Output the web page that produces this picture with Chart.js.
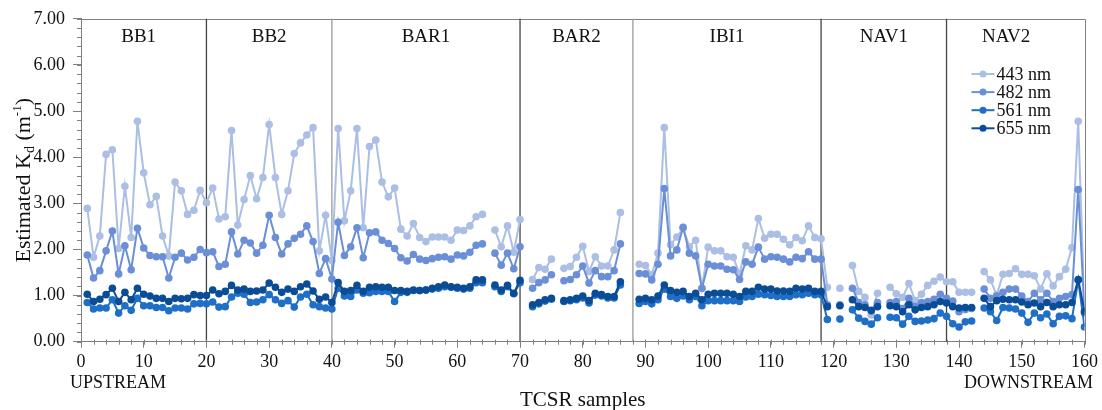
<!DOCTYPE html>
<html>
<head>
<meta charset="utf-8">
<script src="https://cdn.jsdelivr.net/npm/chart.js@4.4.1/dist/chart.umd.min.js"></script>
<style>
  html, body { margin: 0; padding: 0; background: #fff; }
  #wrap { width: 1102px; height: 410px; }
</style>
</head>
<body>
<div id="wrap"><canvas id="kdChart"></canvas></div>
<script>
/* ── Data ───────────────────────────────────── */
const samples = [
  1, 2, 3, 4, 5, 6, 7, 8, 9, 10, 11, 12, 13, 14, 15, 16, 17, 18, 19, 20,
  21, 22, 23, 24, 25, 26, 27, 28, 29, 30, 31, 32, 33, 34, 35, 36, 37, 38, 39, 40,
  41, 42, 43, 44, 45, 46, 47, 48, 49, 50, 51, 52, 53, 54, 55, 56, 57, 58, 59, 60,
  61, 62, 63, 64, 65, 66, 67, 68, 69, 70, 71, 72, 73, 74, 75, 76, 77, 78, 79, 80,
  81, 82, 83, 84, 85, 86, 87, 88, 89, 90, 91, 92, 93, 94, 95, 96, 97, 98, 99, 100,
  101, 102, 103, 104, 105, 106, 107, 108, 109, 110, 111, 112, 113, 114, 115, 116, 117, 118, 119, 120,
  121, 122, 123, 124, 125, 126, 127, 128, 129, 130, 131, 132, 133, 134, 135, 136, 137, 138, 139, 140,
  141, 142, 143, 144, 145, 146, 147, 148, 149, 150, 151, 152, 153, 154, 155, 156, 157, 158, 159, 160,
];

const kd443 = [
  2.89, 1.83, 2.29, 4.06, 4.16, 2.02, 3.37, 2.26, 4.78, 3.66,
  2.97, 3.15, 2.29, 1.86, 3.46, 3.27, 2.76, 2.85, 3.28, 3.01,
  3.33, 2.66, 2.71, 4.58, 2.53, 3.08, 3.60, 3.10, 3.56, 4.71,
  3.56, 2.76, 3.27, 4.08, 4.31, 4.48, 4.64, 1.97, 2.74, 1.76,
  4.62, 2.62, 3.27, 4.62, 2.47, 4.23, 4.37, 3.46, 3.14, 3.33,
  2.44, 2.29, 2.56, 2.26, 2.17, 2.27, 2.27, 2.27, 2.20, 2.42,
  2.41, 2.51, 2.71, 2.76, null, 2.42, 2.06, 2.51, 1.94, 2.65,
  null, 1.35, 1.61, 1.57, 1.79, null, 1.59, 1.63, 1.83, 2.07,
  1.52, 1.84, 1.64, 1.64, 1.99, 2.80, null, null, 1.68, 1.65,
  1.45, 1.92, 4.64, 2.10, 2.27, 2.46, 2.06, 2.20, 1.16, 2.05,
  1.97, 1.97, 1.84, 1.83, 1.47, 2.08, 1.99, 2.67, 2.24, 2.33,
  2.33, 2.22, 2.10, 2.26, 2.19, 2.51, 2.26, 2.23, 1.18, null,
  1.16, null, 1.65, 1.09, 0.96, 0.58, 1.05, null, 1.18, 1.04,
  0.96, 1.26, 0.89, 1.03, 1.22, 1.31, 1.40, 1.30, 1.30, 1.07,
  1.07, 1.07, null, 1.52, 1.34, 1.01, 1.46, 1.48, 1.58, 1.46,
  1.46, 1.43, 1.14, 1.47, 1.21, 1.41, 1.57, 2.04, 4.78, 0.68,
];

const kd482 = [
  1.88, 1.38, 1.54, 1.97, 2.40, 1.47, 2.08, 1.56, 2.46, 2.03,
  1.87, 1.84, 1.84, 1.38, 1.83, 1.92, 1.77, 1.83, 2.00, 1.93,
  1.95, 1.63, 1.68, 2.38, 1.90, 2.20, 2.14, 1.92, 2.09, 2.74,
  2.26, 1.90, 2.12, 2.24, 2.33, 2.51, 2.17, 1.48, 1.80, 1.36,
  2.59, 1.87, 2.06, 2.47, 1.82, 2.36, 2.38, 2.20, 2.13, 2.02,
  1.82, 1.75, 1.89, 1.79, 1.76, 1.80, 1.83, 1.84, 1.79, 1.88,
  1.86, 1.94, 2.09, 2.12, null, 1.92, 1.66, 1.92, 1.58, 2.06,
  null, 1.16, 1.28, 1.34, 1.45, null, 1.32, 1.35, 1.45, 1.64,
  1.27, 1.54, 1.41, 1.41, 1.54, 2.12, null, null, 1.48, 1.47,
  1.34, 1.68, 3.32, 1.86, 1.99, 2.48, 1.92, 1.86, 1.16, 1.68,
  1.64, 1.64, 1.57, 1.56, 1.35, 1.73, 1.68, 2.05, 1.79, 1.84,
  1.83, 1.79, 1.73, 1.83, 1.80, 1.95, 1.79, 1.79, 0.80, null,
  0.80, null, 1.16, 0.85, 0.80, 0.66, 0.85, null, 0.85, 0.87,
  0.72, 0.94, 0.76, 0.85, 0.87, 0.92, 1.03, 0.94, 0.88, 0.65,
  0.70, 0.72, null, 1.14, 0.94, 0.99, 1.07, 1.14, 1.14, 0.99,
  0.87, 1.05, 0.91, 1.05, 0.87, 0.94, 0.98, 1.02, 3.30, 0.62,
];

const kd561 = [
  0.85, 0.71, 0.73, 0.73, 0.91, 0.62, 0.78, 0.68, 0.94, 0.78,
  0.78, 0.74, 0.74, 0.67, 0.73, 0.73, 0.71, 0.82, 0.83, 0.82,
  0.86, 0.75, 0.76, 0.97, 1.05, 1.03, 0.85, 0.86, 0.91, 1.02,
  0.91, 0.83, 0.89, 0.75, 0.97, 1.03, 0.80, 0.76, 0.73, 0.71,
  1.16, 0.99, 0.98, 1.12, 1.05, 1.06, 1.09, 1.09, 1.09, 0.87,
  1.07, 1.07, 1.11, 1.11, 1.12, 1.14, 1.16, 1.19, 1.18, 1.16,
  1.14, 1.16, 1.28, 1.28, null, 1.19, 1.09, 1.19, 1.04, 1.28,
  null, 0.76, 0.82, 0.88, 0.92, null, 0.87, 0.89, 0.91, 0.95,
  0.84, 1.01, 0.99, 0.95, 0.95, 1.23, null, null, 0.83, 0.87,
  0.82, 0.91, 1.14, 0.98, 0.94, 0.99, 0.91, 0.98, 0.78, 0.89,
  0.89, 0.89, 0.89, 0.89, 0.87, 0.97, 0.98, 1.03, 1.02, 1.00,
  0.98, 0.98, 0.98, 1.02, 1.02, 1.05, 1.02, 1.02, 0.48, null,
  0.49, null, 0.69, 0.51, 0.44, 0.38, 0.52, null, 0.53, 0.52,
  0.38, 0.55, 0.44, 0.45, 0.47, 0.50, 0.62, 0.55, 0.39, 0.32,
  0.43, 0.45, null, 0.73, 0.65, 0.46, 0.74, 0.73, 0.71, 0.62,
  0.42, 0.62, 0.52, 0.60, 0.39, 0.55, 0.56, 0.50, 1.33, 0.32,
];

const kd655 = [
  1.03, 0.87, 0.92, 1.02, 1.16, 0.87, 1.07, 0.91, 1.16, 1.03,
  0.99, 0.94, 0.94, 0.87, 0.94, 0.93, 0.94, 1.02, 1.00, 1.00,
  1.12, 1.04, 1.09, 1.22, 1.12, 1.14, 1.09, 1.10, 1.12, 1.27,
  1.18, 1.07, 1.14, 1.09, 1.19, 1.25, 1.10, 0.92, 0.97, 0.85,
  1.28, 1.09, 1.11, 1.22, 1.09, 1.18, 1.19, 1.18, 1.18, 1.11,
  1.11, 1.09, 1.12, 1.11, 1.12, 1.16, 1.19, 1.23, 1.19, 1.18,
  1.16, 1.19, 1.34, 1.34, null, 1.23, 1.12, 1.22, 1.05, 1.33,
  null, 0.80, 0.85, 0.91, 0.94, null, 0.89, 0.91, 0.94, 0.99,
  0.89, 1.05, 1.02, 0.98, 0.98, 1.30, null, null, 0.92, 0.94,
  0.91, 0.99, 1.23, 1.11, 1.07, 1.09, 0.98, 1.05, 0.91, 1.03,
  1.05, 1.05, 1.05, 1.03, 0.98, 1.09, 1.09, 1.18, 1.14, 1.14,
  1.10, 1.10, 1.09, 1.16, 1.14, 1.16, 1.09, 1.09, 0.76, null,
  0.78, null, 0.91, 0.76, 0.74, 0.68, 0.76, null, 0.78, 0.76,
  0.65, 0.80, 0.69, 0.74, 0.76, 0.80, 0.87, 0.84, 0.76, 0.73,
  0.74, 0.74, null, 0.94, 0.76, 0.89, 0.92, 0.91, 0.91, 0.86,
  0.80, 0.84, 0.76, 0.85, 0.76, 0.80, 0.80, 0.85, 1.35, 0.65,
];

const seriesLabels = ['443 nm', '482 nm', '561 nm', '655 nm'];
const regionNames  = ['BB1', 'BB2', 'BAR1', 'BAR2', 'IBI1', 'NAV1', 'NAV2'];
const regionCentre = [9.2, 30, 55, 79, 103, 128, 147.5];
const regionBounds = [20, 40, 70, 88, 118, 138];

/* ── Style ──────────────────────────────────── */
const SERIF = "'Liberation Serif', 'Times New Roman', serif";
const PALETTE = {
  c443: '#abbee4',
  c482: '#6b8fd6',
  c561: '#1f6fc6',
  c655: '#0b4c97',
  axis: '#808080',
  sepD: '#444444',
  sepL: '#9a9a9a',
  text: '#111111',
};
const seriesColors = [PALETTE.c443, PALETTE.c482, PALETTE.c561, PALETTE.c655];
const seriesValues = [kd443, kd482, kd561, kd655];
const sepColors = [PALETTE.sepD, PALETTE.sepL, PALETTE.sepD, PALETTE.sepL, PALETTE.sepD, PALETTE.sepD];

// ── Extra drawing: frame, separators, minor ticks, labels, legend
const decor = {
  id: 'decor',
  beforeDatasetsDraw(chart) {
    const { ctx, chartArea: a, scales: { x, y } } = chart;
    ctx.save();
    ctx.lineWidth = 1;
    ctx.strokeStyle = PALETTE.axis;
    ctx.beginPath();
    ctx.moveTo(a.left, Math.round(a.top) + 0.5);
    ctx.lineTo(Math.round(a.right) + 0.5, Math.round(a.top) + 0.5);
    ctx.lineTo(Math.round(a.right) + 0.5, a.bottom);
    ctx.stroke();

    ctx.lineWidth = 1.3;
    regionBounds.forEach((b, i) => {
      const px = x.getPixelForValue(b);
      ctx.strokeStyle = sepColors[i];
      ctx.beginPath();
      ctx.moveTo(px, a.top);
      ctx.lineTo(px, a.bottom);
      ctx.stroke();
    });

    // minor ticks
    ctx.strokeStyle = PALETTE.axis;
    ctx.lineWidth = 1;
    for (let i = 0; i <= 35; i++) {
      const py = Math.round(y.getPixelForValue(i / 5)) + 0.5;
      ctx.beginPath();
      ctx.moveTo(a.left - 4, py);
      ctx.lineTo(a.left, py);
      ctx.stroke();
    }
    for (let i = 0; i <= 80; i++) {
      const px = Math.round(x.getPixelForValue(i * 2)) + 0.5;
      ctx.beginPath();
      ctx.moveTo(px, a.bottom - 2);
      ctx.lineTo(px, a.bottom + 3);
      ctx.stroke();
    }

    // region names
    ctx.fillStyle = PALETTE.text;
    ctx.font = `19px ${SERIF}`;
    ctx.textAlign = 'center';
    ctx.textBaseline = 'alphabetic';
    regionNames.forEach((n, i) => {
      ctx.fillText(n, x.getPixelForValue(regionCentre[i]), a.top + 23);
    });
    ctx.restore();
  },
  afterDraw(chart) {
    const { ctx, chartArea: a } = chart;
    ctx.save();
    ctx.fillStyle = PALETTE.text;

    // legend
    ctx.font = `18px ${SERIF}`;
    ctx.textAlign = 'left';
    ctx.textBaseline = 'middle';
    seriesLabels.forEach((lab, i) => {
      const ly = 74 + i * 18.1;
      ctx.strokeStyle = seriesColors[i];
      ctx.lineWidth = 2;
      ctx.beginPath();
      ctx.moveTo(a.right - 113, ly);
      ctx.lineTo(a.right - 90, ly);
      ctx.stroke();
      ctx.fillStyle = seriesColors[i];
      ctx.beginPath();
      ctx.arc(a.right - 101.5, ly, 3.5, 0, Math.PI * 2);
      ctx.fill();
      ctx.fillStyle = PALETTE.text;
      ctx.fillText(lab, a.right - 88, ly + 1);
    });

    // bottom texts
    ctx.textBaseline = 'alphabetic';
    ctx.font = `18px ${SERIF}`;
    ctx.textAlign = 'left';
    ctx.fillText('UPSTREAM', 70, 388);
    ctx.textAlign = 'right';
    ctx.fillText('DOWNSTREAM', 1093, 388);
    ctx.textAlign = 'center';
    ctx.font = `21px ${SERIF}`;
    ctx.fillText('TCSR samples', (a.left + a.right) / 2, 406);

    // y title with sub/superscript
    const parts = [
      { t: 'Estimated K', size: 22, dy: 0 },
      { t: 'd', size: 14, dy: 4 },
      { t: ' (m', size: 22, dy: 0 },
      { t: '-1', size: 13, dy: -9 },
      { t: ')', size: 22, dy: 0 },
    ];
    let total = 0;
    parts.forEach(p => { ctx.font = `${p.size}px ${SERIF}`; p.w = ctx.measureText(p.t).width; total += p.w; });
    ctx.translate(23, (a.top + a.bottom) / 2);
    ctx.rotate(-Math.PI / 2);
    ctx.textAlign = 'left';
    let cx = -total / 2;
    parts.forEach(p => {
      ctx.font = `${p.size}px ${SERIF}`;
      ctx.fillText(p.t, cx, 7 + p.dy);
      cx += p.w;
    });
    ctx.restore();
  },
};

// ── Chart ──────────────────────────────────────
new Chart(document.getElementById('kdChart'), {
  type: 'line',
  data: {
    datasets: seriesValues.map((vals, i) => ({
      label: seriesLabels[i],
      data: samples.map((s, j) => ({ x: s, y: vals[j] })),
      borderColor: seriesColors[i],
      backgroundColor: seriesColors[i],
      pointBackgroundColor: seriesColors[i],
      pointBorderWidth: 0,
      pointRadius: 3.8,
      pointHoverRadius: 3.8,
      borderWidth: 2,
      tension: 0,
      spanGaps: false,
      order: 4 - i,
    })),
  },
  options: {
    responsive: true,
    maintainAspectRatio: false,
    animation: false,
    layout: { padding: { top: 18.7, right: 17, left: 0, bottom: 0 } },
    plugins: { legend: { display: false }, tooltip: { enabled: false } },
    scales: {
      x: {
        type: 'linear',
        min: 0,
        max: 160,
        ticks: {
          stepSize: 10,
          autoSkip: false,
          maxRotation: 0,
          padding: 4,
          color: PALETTE.text,
          font: { family: SERIF, size: 18 },
        },
        grid: { drawOnChartArea: false, tickLength: 6, color: PALETTE.axis },
        border: { color: PALETTE.axis },
        afterFit: (s) => { s.height = 68.3; },
      },
      y: {
        min: 0,
        max: 7,
        ticks: {
          stepSize: 1,
          padding: 8,
          color: PALETTE.text,
          font: { family: SERIF, size: 18 },
          callback: (v) => v.toFixed(2),
        },
        grid: { drawOnChartArea: false, tickLength: 8, color: PALETTE.axis },
        border: { color: PALETTE.axis },
        afterFit: (s) => { s.width = 81; },
      },
    },
  },
  plugins: [decor],
});
</script>
</body>
</html>
